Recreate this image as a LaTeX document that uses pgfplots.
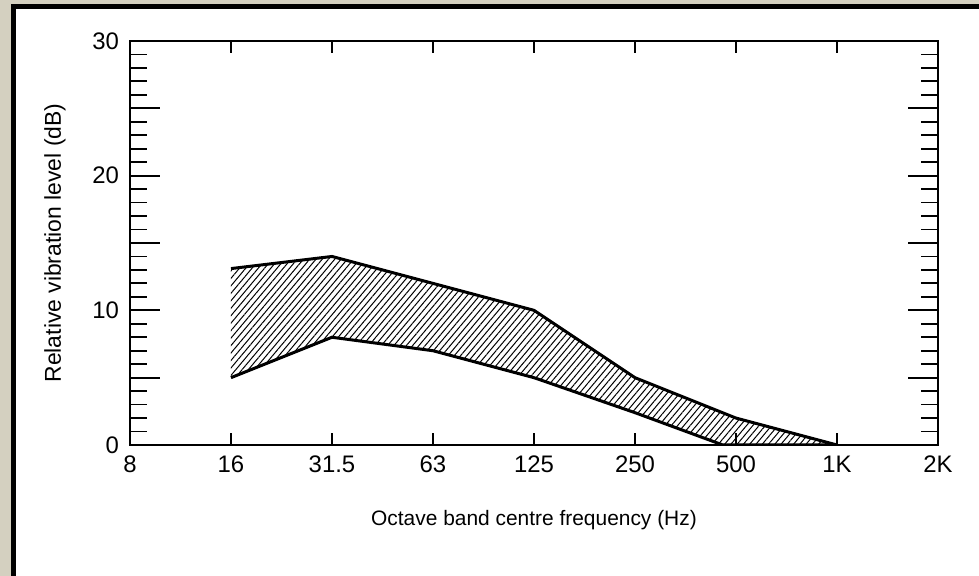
\documentclass[border=0pt]{standalone}
\usepackage{pgfplots}
\pgfplotsset{compat=1.18}
\usetikzlibrary{patterns.meta}
\usepackage{fontspec}
\setmainfont{Liberation Sans}
\definecolor{beige}{RGB}{212,208,192}
\begin{document}
\begin{tikzpicture}
\fill[beige] (0bp,0bp) rectangle (489.5bp,288bp);
\fill[black] (5.5bp,0bp) rectangle (489.5bp,286bp);
\fill[white] (8bp,0bp) rectangle (489.5bp,283.5bp);
\begin{axis}[
  at={(65bp,65.5bp)}, anchor=south west,
  scale only axis, width=404bp, height=202bp,
  xmin=0, xmax=8, ymin=0, ymax=30,
  xtick={0,1,2,3,4,5,6,7,8},
  xticklabels={8,16,31.5,63,125,250,500,1K,2K},
  ytick={0,10,20,30},
  extra y ticks={5,15,25}, extra y tick labels={},
  minor y tick num=9,
  tick align=inside,
  major tick length=15bp, minor tick length=8.5bp,
  xtick style={/pgfplots/major tick length=6bp},
  tick style={line width=0.9bp, black},
  axis line style={line width=1bp},
  /pgf/number format/assume math mode=true,
  tick label style={font=\fontsize{12}{14}\selectfont},
  xticklabel style={yshift=-2bp},
  yticklabel style={xshift=-2bp},
  xlabel={Octave band centre frequency (Hz)},
  ylabel={Relative vibration level (dB)},
  xlabel style={at={(axis description cs:0.5,-0.1856)}, anchor=center, font=\fontsize{10.5}{12}\selectfont},
  ylabel style={at={(axis description cs:-0.0928,0.5)}, anchor=center, font=\fontsize{11.5}{13}\selectfont},
]
\addplot[pattern={Lines[angle=50, distance=2.4bp, line width=0.5bp]}, draw=none] coordinates {(1,13.1) (2,14) (3,12) (4,10) (5,5) (6,2) (7,0) (5.87,0) (5,2.4) (4,5) (3,7) (2,8) (1,5)} --cycle;
\addplot[black, line width=1.5bp] coordinates {(1,13.1) (2,14) (3,12) (4,10) (5,5) (6,2) (7,0)};
\addplot[black, line width=1.5bp] coordinates {(1,5) (2,8) (3,7) (4,5) (5,2.4) (5.87,0) (7,0)};
\end{axis}
\end{tikzpicture}
\end{document}
